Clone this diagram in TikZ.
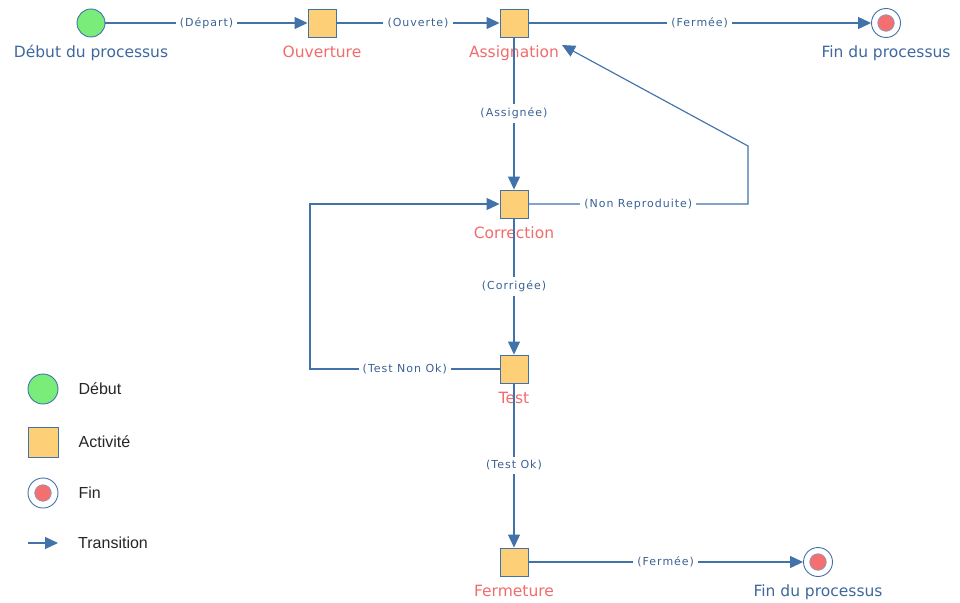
\documentclass[tikz,border=0pt]{standalone}
\usepackage{fontspec}
\setmainfont{DejaVu Sans}
\newfontfamily\edgefont[LetterSpace=9]{DejaVu Sans}
\newfontfamily\legfont{Liberation Sans}
\usetikzlibrary{arrows.meta,positioning}

\definecolor{flowblue}{RGB}{66,114,170}
\definecolor{labelblue}{RGB}{58,98,148}
\definecolor{procblue}{RGB}{62,104,158}
\definecolor{actred}{RGB}{242,108,108}
\definecolor{startgreen}{RGB}{122,236,122}
\definecolor{actyellow}{RGB}{253,208,120}
\definecolor{endred}{RGB}{244,112,112}

\begin{document}
\begin{tikzpicture}[
  x=1pt, y=-1pt,
  font=\fontsize{15.5}{18}\selectfont,
  startnode/.style={circle, draw=flowblue, fill=startgreen, line width=0.9pt,
    minimum size=28pt, inner sep=0pt},
  actbox/.style={rectangle, draw=flowblue, fill=actyellow, line width=0.9pt,
    minimum size=28pt, inner sep=0pt},
  endnode/.style={circle, draw=flowblue, fill=white, line width=0.9pt,
    minimum size=29pt, inner sep=0pt,
    path picture={\filldraw[fill=endred, draw=flowblue!70, line width=0.6pt]
      (path picture bounding box.center) circle (8.3pt);}},
  actname/.style={label={[text=actred, label distance=7.5pt, inner sep=0pt,
    text height=12pt, text depth=3pt]below:#1}},
  procname/.style={label={[text=procblue, label distance=7.5pt, inner sep=0pt,
    text height=12pt, text depth=3pt]below:#1}},
  trans/.style={-{Triangle[length=13pt, width=12pt]}, draw=flowblue, line width=1.15pt},
  tlabel/.style={fill=white, text=labelblue, inner sep=4pt,
    font=\edgefont\fontsize{11}{13}\selectfont},
  legtext/.style={anchor=west, inner sep=0pt, text=black!85,
    font=\legfont\fontsize{16}{19}\selectfont}
]

\fill[white] (0,0) rectangle (960,602);
\useasboundingbox (0,0) rectangle (960,602);

% process
\node[startnode, procname=Début du processus] (debut) at (91,23) {};
\node[actbox, actname=Ouverture] (ouverture) at (322,23) {};
\node[actbox, actname=Assignation] (assignation) at (514,23) {};
\node[endnode, procname=Fin du processus] (fintop) at (886,23) {};
\node[actbox, actname=Correction] (correction) at (514,204) {};
\node[actbox, actname=Test] (test) at (514,369) {};
\node[actbox, actname=Fermeture] (fermeture) at (514,562) {};
\node[endnode, procname=Fin du processus] (finbas) at (818,562) {};

\coordinate (nrcorner) at (748,146);
\coordinate (nrtip) at (562,45);
\coordinate (tnokcorner) at (310,204);

\draw[trans] (debut) -- node[tlabel] {(Départ)} (ouverture);
\draw[trans] (ouverture) -- node[tlabel] {(Ouverte)} (assignation);
\draw[trans] (assignation) -- node[tlabel] {(Fermée)} (fintop);
\draw[trans] (assignation) -- node[tlabel] {(Assignée)} (correction);
\draw[trans] (correction) -- node[tlabel] {(Non Reproduite)} (correction -| nrcorner)
  -- (nrcorner) -- (nrtip);
\draw[trans] (correction) -- node[tlabel] {(Corrigée)} (test);
\draw[trans] (test) -- node[tlabel] {(Test Non Ok)} (test -| tnokcorner)
  -- (tnokcorner) -- (correction);
\draw[trans] (test) -- node[tlabel] {(Test Ok)} (fermeture);
\draw[trans] (fermeture) -- node[tlabel] {(Fermée)} (finbas);

% legend
\node[startnode, minimum size=30pt] (legdebut) at (43,389) {};
\node[legtext, right=20pt of legdebut] (legdebuttxt) {Début};
\node[actbox, minimum size=30pt] (legactivite) at (43,442) {};
\node[legtext, right=20pt of legactivite] (legactivitetxt) {Activité};
\node[endnode, minimum size=30pt] (legfin) at (43,493) {};
\node[legtext, right=20pt of legfin] (legfintxt) {Fin};
\coordinate (legarrA) at (28,543);
\coordinate[right=30pt of legarrA] (legarrB);
\draw[trans] (legarrA) -- (legarrB);
\node[legtext, right=20pt of legarrB] (legtranstxt) {Transition};

\end{tikzpicture}
\end{document}
